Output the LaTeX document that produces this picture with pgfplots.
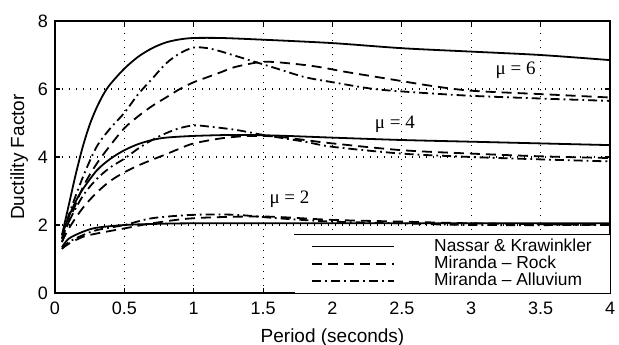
\documentclass[border=0pt]{standalone}
\usepackage{fontspec}
\setmainfont{Liberation Sans}
\newfontfamily\serif{Liberation Serif}
\usepackage{pgfplots}
\pgfplotsset{compat=1.18}
\begin{document}
\begin{tikzpicture}
\begin{axis}[
  name=ax,
  scale only axis, width=277.5pt, height=136pt,
  xmin=0, xmax=4, ymin=0, ymax=8,
  xtick={0,0.5,1,1.5,2,2.5,3,3.5,4},
  xticklabels={0,0.5,1,1.5,2,2.5,3,3.5,4},
  ytick={0,2,4,6,8},
  grid=major,
  grid style={black, line width=0.6pt, dash pattern=on 0.7pt off 2.8pt},
  axis line style={line width=0.9pt},
  tick align=inside, tick pos=both,
  major tick length=2.5pt,
  tick style={black, line width=0.6pt},
  ticklabel style={font=\fontsize{9}{10}\selectfont},
  /pgf/number format/assume math mode=true,
  xticklabel style={yshift=-1pt},
  xlabel={Period (seconds)}, ylabel={Ductility Factor},
  label style={font=\fontsize{9.5}{11}\selectfont},
  xlabel style={yshift=0pt},
  ylabel style={yshift=-2pt},
  legend image code/.code={\draw[#1] (0pt,0pt) -- (41pt,0pt);},
  legend style={name=leg, at={(rel axis cs:1,0)}, anchor=south east, draw=none, fill=white,
    font=\fontsize{8.7}{9.5}\selectfont, inner xsep=8.5pt, inner ysep=1.5pt,
    nodes={inner sep=0.4pt}, column sep=19pt, row sep=0pt},
  legend cell align=left,
  every axis plot/.append style={line width=0.9pt, smooth, black},
]
% mu = 6
\addplot[solid] coordinates {(0.05,1.7)(0.1,2.6)(0.15,3.5)(0.2,4.3)(0.25,4.95)(0.3,5.45)(0.35,5.85)(0.4,6.15)(0.5,6.6)(0.6,6.95)(0.7,7.2)(0.8,7.37)(0.9,7.46)(1.0,7.5)(1.2,7.5)(1.5,7.45)(2.0,7.35)(2.5,7.2)(3.0,7.1)(3.5,7.0)(4.0,6.85)};
\addlegendentry{Nassar \& Krawinkler}
\addplot[dash pattern=on 5pt off 3pt] coordinates {(0.05,1.5)(0.1,2.1)(0.2,3.1)(0.3,3.8)(0.4,4.35)(0.5,4.85)(0.6,5.2)(0.7,5.5)(0.8,5.75)(0.9,6.0)(1.0,6.2)(1.1,6.35)(1.2,6.5)(1.3,6.65)(1.5,6.8)(1.7,6.75)(1.9,6.65)(2.1,6.5)(2.4,6.3)(2.7,6.1)(3.0,5.95)(3.5,5.85)(4.0,5.75)};
\addlegendentry{Miranda -- Rock}
\addplot[dash pattern=on 4.5pt off 2pt on 0.9pt off 2pt] coordinates {(0.05,1.6)(0.1,2.3)(0.2,3.4)(0.3,4.3)(0.4,4.85)(0.5,5.3)(0.6,5.85)(0.7,6.3)(0.8,6.75)(0.9,7.05)(1.0,7.22)(1.1,7.2)(1.2,7.1)(1.4,6.85)(1.6,6.6)(1.8,6.35)(2.0,6.2)(2.3,6.0)(2.6,5.9)(3.0,5.8)(3.5,5.72)(4.0,5.65)};
\addlegendentry{Miranda -- Alluvium}
% mu = 4
\addplot[forget plot, solid] coordinates {(0.05,1.7)(0.1,2.25)(0.15,2.7)(0.2,3.05)(0.3,3.6)(0.4,3.95)(0.5,4.2)(0.6,4.38)(0.7,4.5)(0.8,4.57)(1.0,4.62)(1.3,4.65)(1.6,4.63)(2.0,4.57)(2.5,4.5)(3.0,4.45)(3.5,4.4)(4.0,4.35)};
\addplot[forget plot, dash pattern=on 5pt off 3pt] coordinates {(0.05,1.5)(0.1,1.9)(0.2,2.5)(0.3,2.95)(0.4,3.3)(0.5,3.55)(0.6,3.75)(0.7,3.92)(0.8,4.08)(0.9,4.25)(1.0,4.4)(1.2,4.55)(1.4,4.62)(1.6,4.6)(1.8,4.5)(2.0,4.4)(2.5,4.2)(3.0,4.1)(3.5,4.02)(4.0,3.97)};
\addplot[forget plot, dash pattern=on 4.5pt off 2pt on 0.9pt off 2pt] coordinates {(0.05,1.6)(0.1,2.1)(0.2,2.85)(0.3,3.35)(0.4,3.7)(0.5,3.95)(0.6,4.25)(0.7,4.5)(0.8,4.7)(0.9,4.85)(1.0,4.93)(1.1,4.9)(1.3,4.8)(1.5,4.65)(1.8,4.45)(2.0,4.3)(2.5,4.1)(3.0,4.0)(3.5,3.93)(4.0,3.87)};
% mu = 2
\addplot[forget plot, solid] coordinates {(0.05,1.35)(0.1,1.6)(0.2,1.8)(0.3,1.92)(0.5,2.0)(0.7,2.03)(1.0,2.05)(2.0,2.05)(3.0,2.05)(4.0,2.05)};
\addplot[forget plot, dash pattern=on 5pt off 3pt] coordinates {(0.05,1.3)(0.1,1.45)(0.2,1.65)(0.3,1.75)(0.5,1.9)(0.7,2.05)(1.0,2.2)(1.5,2.25)(2.0,2.15)(2.5,2.1)(3.0,2.05)(4.0,2.0)};
\addplot[forget plot, dash pattern=on 4.5pt off 2pt on 0.9pt off 2pt] coordinates {(0.05,1.3)(0.1,1.5)(0.2,1.7)(0.3,1.85)(0.5,2.0)(0.7,2.2)(1.0,2.3)(1.3,2.3)(1.6,2.2)(2.0,2.1)(2.5,2.05)(3.0,2.0)(4.0,2.0)};
\node[font=\serif\fontsize{9.5}{11}\selectfont] at (axis cs:3.32,6.55) {μ = 6};
\node[font=\serif\fontsize{9.5}{11}\selectfont] at (axis cs:2.45,4.95) {μ = 4};
\node[font=\serif\fontsize{9.5}{11}\selectfont] at (axis cs:1.69,2.75) {μ = 2};
\end{axis}
\draw[line width=0.9pt] (leg.north west) -- (leg.north east);
\pgfresetboundingbox
\path ([xshift=-27.5pt,yshift=10.5pt]ax.north west) rectangle ([xshift=4.5pt,yshift=-25.5pt]ax.south east);
\end{tikzpicture}
\end{document}
